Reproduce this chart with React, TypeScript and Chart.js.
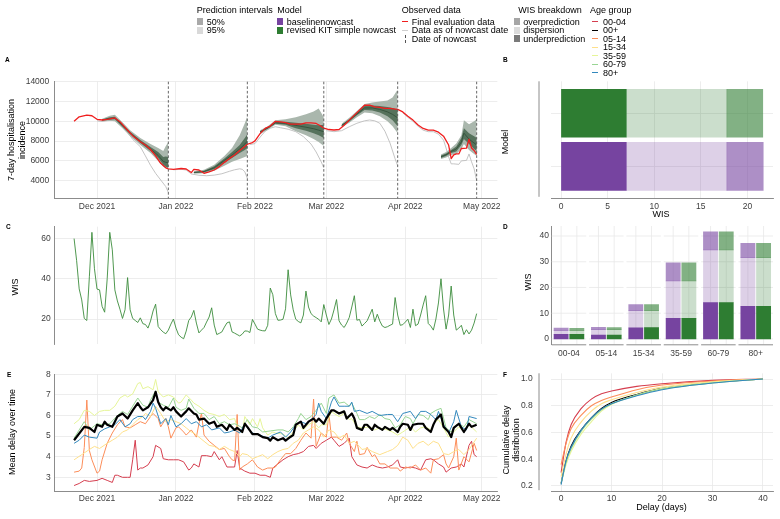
import React, { useEffect, useRef } from "react";
import { Chart, registerables } from "chart.js";

Chart.register(...registerables);

const PAGE_W = 780;
const PAGE_H = 519;
const FONT = '"Liberation Sans", Arial, Helvetica, sans-serif';
const TICK_COLOR = "#3d3d3d";
const GRID_COLOR = "#e8e8e8";
const AXIS_COLOR = "#8c8c8c";

const PURPLE = "#7644A0";
const GREEN = "#2E7D32";
const FINAL_RED = "#F01E1E";
const AS_OF_GREY = "#BDBDBD";
const PI95_FILL = "#AAB7AD";
const PI50_FILL = "#56725C";
const MEDIAN_LINE = "#2F4D36";
const NOWCAST_LINE = "#555555";

// ---------- shared time axis: days counted from 1 Dec 2021 ----------
const monthTickDays = [0, 31, 62, 90, 121, 151];
const monthTickLabels = ["Dec 2021", "Jan 2022", "Feb 2022", "Mar 2022", "Apr 2022", "May 2022"];
const nowcastDays = [28, 59, 89, 118, 149];
const TIME_MIN = -16.88;
const TIME_MAX = 157.1;

// ---------- A: hospitalisation incidence ----------
const finalDays = [
  -9, -7, -4, -2, 0, 2, 4, 6, 7, 9,
  12, 14, 17, 19, 21, 23, 25, 27, 28, 30,
  33, 35, 37, 38, 40, 42, 44, 46, 48, 50,
  52, 54, 56, 58, 59, 61, 62, 64, 66, 68,
  70, 72, 74, 76, 78, 80, 82, 84, 86, 88,
  89, 91, 93, 95, 97, 99, 101, 103, 105, 107,
  109, 111, 113, 115, 117, 118, 120, 122, 124, 126,
  128, 130, 132, 134, 136, 138, 139, 140, 141, 142,
  143, 145, 146, 147, 148, 149,
];
const finalIncidence = [
  10000, 10450, 10620, 10560, 10200, 10130, 10200, 10300, 10340, 9960,
  9100, 8550, 7940, 7600, 7150, 6500, 5750, 5300, 5200, 5150,
  5230, 5180, 4820, 5150, 5080, 4750, 4900, 5080, 5420, 5850,
  6250, 6600, 7050, 7450, 7680, 7850, 8020, 8750, 9280, 9520,
  10000, 9950, 9860, 9720, 9720, 9720, 9850, 9850, 9780, 9500,
  9300, 9170, 9120, 9170, 9600, 10120, 10620, 11130, 11620, 11640,
  11460, 11400, 11300, 11300, 11230, 11200, 10950, 10520, 10120, 9620,
  9280, 9100, 9100, 8900, 8500, 7600, 6220, 6600, 6700, 6700,
  7250, 7280, 8200, 7300, 7050, 6650,
];

// data as available on each nowcast date: [day, incidence]
const asOfWindow1 = [[0, 10050], [2, 9980], [4, 10060], [7, 10130], [9, 9700], [12, 8900], [14, 8170], [17, 7430], [19, 6500], [21, 5550], [23, 4740], [25, 4070], [27, 3400], [28, 2800]];
const asOfWindow2 = [[30, 5100], [33, 5150], [35, 5080], [37, 4680], [40, 4550], [43, 4500], [46, 4560], [49, 4700], [52, 4950], [54, 5100], [56, 5200], [57, 5150], [58, 4900], [59, 4250]];
const asOfWindow3 = [[60, 7650], [62, 7750], [64, 8400], [66, 9000], [68, 9300], [70, 9450], [72, 9350], [75, 9200], [78, 8950], [81, 8450], [84, 7700], [86, 6900], [88, 5900], [89, 5300]];
const asOfWindow4 = [[90, 9050], [93, 8950], [96, 9050], [99, 9450], [102, 9800], [105, 10050], [107, 10130], [109, 10050], [111, 9800], [113, 9000], [115, 7800], [117, 6200], [118, 5500]];
const asOfWindow5 = [[120, 10850], [122, 10400], [124, 10000], [126, 9500], [128, 9100], [130, 8950], [132, 8950], [134, 8700], [136, 8100], [137, 7300], [138, 6400], [139, 5700], [140, 5700], [142, 5650], [143, 6000], [145, 6050], [146, 6700], [147, 5900], [148, 5200], [149, 4000]];
const asOfWindows = [asOfWindow1, asOfWindow2, asOfWindow3, asOfWindow4, asOfWindow5];

// nowcast quantiles per nowcast window
const bandDays = [
  [2, 5, 7, 10, 13, 17, 21, 24, 26, 27, 28],
  [38, 42, 46, 50, 53, 56, 58, 59],
  [64, 67, 70, 74, 78, 82, 85, 87, 89],
  [96, 99, 102, 105, 108, 111, 114, 116, 118],
  [135, 137, 139, 141, 143, 144, 146, 148, 149],
];
const q025 = [
  [10000, 10050, 10000, 9300, 8500, 7600, 6800, 6000, 5400, 5250, 5200],
  [4700, 4750, 5000, 5500, 5900, 6200, 6400, 6500],
  [8700, 9150, 9650, 9500, 9000, 8600, 8200, 7900, 7500],
  [9400, 9850, 10400, 10900, 10800, 10500, 10000, 9500, 8800],
  [6200, 6350, 6600, 6700, 7200, 7700, 7100, 6700, 6500],
];
const q25 = [
  [10080, 10150, 10200, 9450, 8700, 7800, 7000, 6300, 5600, 5400, 5300],
  [4780, 4850, 5150, 5800, 6300, 6800, 7100, 7300],
  [8850, 9250, 9750, 9650, 9300, 9050, 8800, 8600, 8300],
  [9500, 9980, 10600, 11150, 11100, 10900, 10500, 10100, 9500],
  [6300, 6500, 6800, 6950, 7600, 8200, 7700, 7200, 7000],
];
const q50 = [
  [10130, 10280, 10330, 9580, 8820, 7950, 7200, 6550, 5950, 5850, 5800],
  [4830, 4920, 5300, 6050, 6600, 7200, 7700, 8000],
  [8920, 9330, 9850, 9800, 9580, 9400, 9250, 9100, 8950],
  [9580, 10100, 10750, 11350, 11350, 11200, 10950, 10700, 10350],
  [6420, 6620, 6950, 7200, 7900, 8800, 8200, 7800, 7600],
];
const q75 = [
  [10180, 10400, 10450, 9700, 8950, 8100, 7400, 6900, 6400, 6450, 6400],
  [4880, 5000, 5450, 6250, 6900, 7600, 8300, 8700],
  [9000, 9420, 9950, 9950, 9850, 9750, 9650, 9600, 9650],
  [9650, 10200, 10900, 11550, 11600, 11550, 11450, 11350, 11200],
  [6550, 6750, 7100, 7450, 8300, 9300, 8800, 8500, 8300],
];
const q975 = [
  [10250, 10550, 10650, 9900, 9100, 8300, 7700, 7300, 7000, 7500, 7900],
  [4950, 5100, 5600, 6500, 7300, 8600, 9800, 10500],
  [9100, 9500, 10100, 10200, 10400, 10700, 11000, 11300, 10400],
  [9750, 10350, 11050, 11750, 11900, 12000, 12100, 12400, 13200],
  [6650, 6900, 7300, 7750, 8600, 10100, 9700, 10000, 10200],
];
const incidenceTicks = [4000, 6000, 8000, 10000, 12000, 14000];

// ---------- B: overall WIS by model (top row first) ----------
const overallModels = ["revised KIT simple nowcast", "baselinenowcast"];
const overallUnder = [7.0, 7.0];
const overallDispersion = [10.8, 10.8];
const overallOver = [3.85, 3.9];
const wisTicks = [0, 5, 10, 15, 20];

// ---------- C: WIS over time (daily, from 22 Nov 2021) ----------
const wisStartDay = -9;
const wisDaily = [
  60, 49, 35, 29.5, 20.3, 19.3, 41, 63.1, 45, 34.9,
  34.5, 26.3, 23.4, 40, 63.1, 54.4, 34.5, 29, 24.9, 20.3,
  24.6, 40.6, 24.6, 20.3, 19.3, 18.3, 20.6, 17.7, 17.3, 15.5,
  19, 24, 27.4, 16.3, 14.7, 13.5, 12.7, 14.5, 17.5, 20,
  15.5, 12.2, 11, 10.2, 14, 19.3, 21, 24.3, 18, 13.1,
  14.5, 15.8, 18.5, 21, 25.6, 17, 12.3, 12.9, 13.6, 16,
  18.1, 18.6, 13.6, 13, 12.3, 11.6, 12.5, 14.1, 14.0, 13.3,
  19.8, 17.5, 15.0, 14.5, 14.2, 14.1, 16.9, 35.4, 32.1, 22.7,
  19.4, 19.5, 19.9, 25.1, 44.5, 32, 24.6, 19.9, 18.8, 18.1,
  22, 33.9, 26, 22.7, 21.5, 20.7, 19.9, 18.6, 27.2, 22,
  17.3, 20, 24.5, 29.7, 19.1, 17, 15.8, 18, 20.8, 26,
  31.6, 19.4, 19.8, 16.5, 17.8, 19.1, 22, 24.9, 18.6, 22.4,
  19, 16.5, 15.8, 16.2, 16.9, 17.5, 30.7, 22, 16.9, 17.2,
  18.5, 19.9, 15.8, 24.9, 16.7, 17.5, 22, 27, 31.6, 17.8,
  16.5, 14.5, 20, 28, 40, 25, 15.0, 22, 36.4, 22,
  14.5, 15.5, 16.9, 12.3, 14.7, 12.6, 14.5, 18, 22.7,
];
const wisTimeTicks = [20, 40, 60];

// ---------- D: WIS by age group ----------
const ageGroups = ["00-04", "05-14", "15-34", "35-59", "60-79", "80+"];
const baselineUnder = [1.8, 1.5, 4.3, 8.0, 14.1, 12.7];
const baselineDispersion = [1.4, 2.1, 6.7, 14.6, 20.5, 18.9];
const baselineOver = [1.0, 0.9, 2.35, 7.0, 7.0, 5.6];
const revisedUnder = [1.8, 1.5, 4.4, 8.0, 14.1, 12.7];
const revisedDispersion = [1.4, 2.1, 6.6, 14.6, 20.5, 18.9];
const revisedOver = [0.9, 0.8, 2.35, 7.0, 7.0, 5.6];
const ageWisTicks = [0, 10, 20, 30, 40];

// ---------- E: mean delay over time [day, mean delay] ----------
const delay0004 = [[-9, 2.6], [-7, 2.7], [-5, 2.85], [-3, 2.8], [0, 2.85], [2, 2.95], [4, 2.85], [6, 2.75], [7, 3.1], [8, 3.1], [10, 3.0], [12, 3.0], [13, 3.0], [14, 3.85], [15, 4.8], [16, 3.35], [17, 3.45], [18, 3.45], [20, 3.6], [22, 4.0], [23, 4.55], [25, 4.4], [26, 3.9], [28, 3.85], [30, 3.85], [32, 3.85], [34, 3.75], [36, 3.35], [37, 3.45], [38, 3.65], [40, 3.5], [41, 4.05], [43, 4.05], [45, 4.0], [46, 4.25], [48, 3.85], [49, 4.0], [51, 3.5], [53, 3.5], [54, 3.5], [55, 4.3], [56, 3.45], [58, 3.3], [60, 3.2], [62, 3.2], [64, 3.1], [66, 3.1], [68, 3.0], [69, 3.45], [71, 3.65], [73, 3.85], [75, 4.0], [77, 4.1], [79, 4.15], [81, 4.25], [83, 4.5], [85, 4.55], [86, 4.4], [88, 4.65], [90, 4.8], [92, 4.95], [93, 4.8], [95, 4.5], [97, 4.65], [99, 4.9], [100, 4.0], [102, 3.6], [104, 3.5], [106, 3.45], [108, 3.6], [110, 3.5], [112, 3.45], [114, 3.5], [116, 3.6], [118, 3.85], [119, 3.5], [121, 3.45], [123, 3.5], [125, 3.45], [127, 3.35], [129, 3.85], [131, 3.9], [132, 3.85], [134, 3.65], [136, 3.5], [137, 3.25], [139, 3.45], [141, 3.5], [143, 3.65], [144, 3.5], [146, 4.55], [147, 4.75], [148, 4.1], [149, 4.0]];
const delayAll = [[-9, 4.8], [-5, 5.45], [-3, 5.4], [-1, 5.2], [0, 5.55], [2, 5.45], [3, 5.7], [4, 5.55], [6, 5.45], [7, 5.7], [8, 5.95], [10, 6.1], [12, 5.85], [14, 6.25], [16, 6.6], [17, 6.4], [18, 6.25], [20, 6.4], [22, 6.75], [23, 7.15], [24, 6.65], [25, 6.4], [26, 6.25], [27, 6.4], [29, 6.25], [30, 6.4], [31, 6.2], [33, 5.95], [35, 6.2], [36, 6.35], [38, 6.1], [39, 6.05], [40, 5.8], [42, 5.85], [44, 5.6], [46, 5.7], [47, 5.45], [49, 5.55], [51, 5.3], [52, 5.55], [54, 5.3], [55, 5.4], [57, 5.2], [58, 5.6], [59, 5.45], [61, 5.1], [63, 5.1], [65, 4.95], [67, 4.9], [68, 4.78], [69, 4.95], [71, 4.8], [73, 4.9], [74, 4.78], [76, 4.97], [77, 5.05], [78, 5.55], [80, 5.7], [81, 5.4], [83, 5.7], [85, 5.85], [86, 5.7], [87, 5.85], [89, 5.6], [90, 5.85], [92, 6.25], [93, 6.25], [95, 6.1], [97, 6.2], [98, 5.85], [100, 6.1], [101, 5.85], [102, 5.4], [104, 5.3], [105, 5.55], [106, 5.55], [108, 5.3], [109, 5.55], [110, 5.45], [112, 5.3], [113, 5.45], [115, 5.3], [116, 5.4], [118, 5.2], [119, 5.45], [120, 5.6], [122, 5.55], [123, 5.3], [124, 5.55], [126, 5.6], [128, 5.6], [129, 5.4], [131, 5.2], [132, 5.55], [133, 5.8], [135, 6.05], [136, 5.45], [138, 5.2], [139, 4.95], [140, 5.4], [142, 5.6], [143, 5.4], [144, 5.2], [146, 5.6], [147, 5.45], [149, 5.55]];
const delay0514 = [[-9, 3.25], [-7, 3.3], [-6, 3.45], [-5, 4.45], [-4, 6.75], [-3, 4.3], [-2, 3.85], [0, 3.2], [1, 3.3], [2, 3.85], [4, 4.65], [6, 5.15], [8, 5.55], [10, 5.8], [11, 5.45], [13, 5.4], [15, 5.55], [17, 5.7], [19, 5.6], [21, 5.95], [22, 6.1], [24, 5.85], [25, 5.45], [27, 5.85], [28, 5.45], [29, 4.9], [31, 5.4], [32, 5.45], [34, 5.2], [35, 5.05], [37, 5.3], [39, 4.95], [40, 5.6], [41, 6.1], [42, 5.05], [44, 4.75], [46, 4.55], [48, 4.35], [50, 4.4], [52, 4.0], [53, 3.85], [54, 3.8], [55, 6.05], [56, 3.35], [57, 3.5], [59, 3.65], [61, 3.85], [63, 3.5], [65, 3.35], [67, 3.45], [69, 3.45], [70, 3.5], [72, 3.85], [74, 4.15], [76, 4.15], [78, 4.4], [80, 4.8], [82, 5.15], [84, 4.9], [85, 6.8], [86, 4.5], [88, 5.15], [90, 4.95], [91, 6.1], [92, 4.95], [94, 4.95], [96, 4.8], [98, 5.15], [99, 4.65], [101, 4.25], [102, 4.75], [103, 4.1], [105, 4.15], [106, 4.45], [108, 4.0], [109, 4.1], [111, 3.65], [113, 3.65], [115, 3.45], [118, 3.45], [119, 3.3], [121, 3.5], [123, 3.45], [125, 3.6], [127, 3.35], [129, 3.45], [131, 3.2], [132, 3.85], [134, 3.9], [136, 4.1], [137, 3.65], [138, 3.45], [140, 4.0], [141, 4.9], [142, 3.35], [144, 4.0], [146, 3.75], [148, 4.65], [149, 4.3]];
const delay1534 = [[-9, 3.85], [-6, 4.1], [-3, 4.35], [-1, 4.5], [1, 4.4], [4, 4.65], [6, 4.8], [8, 4.95], [10, 5.2], [12, 5.3], [14, 5.55], [16, 5.8], [18, 5.95], [19, 6.1], [21, 5.95], [23, 6.45], [25, 6.1], [27, 5.7], [29, 5.8], [31, 5.7], [33, 5.6], [35, 5.4], [37, 5.2], [38, 5.15], [40, 4.95], [42, 4.75], [44, 4.55], [46, 4.5], [48, 4.35], [50, 4.5], [52, 4.35], [54, 4.25], [56, 4.0], [57, 4.15], [59, 4.1], [61, 3.9], [63, 4.0], [65, 4.1], [67, 3.9], [69, 4.1], [71, 4.25], [73, 4.35], [75, 4.4], [77, 4.65], [79, 4.8], [81, 5.15], [83, 5.3], [85, 5.45], [87, 5.3], [89, 4.95], [91, 5.3], [93, 5.2], [95, 4.9], [97, 5.05], [99, 4.65], [101, 4.75], [103, 4.5], [104, 4.35], [106, 4.4], [108, 4.25], [111, 4.1], [114, 4.25], [116, 4.35], [118, 4.55], [120, 4.95], [122, 4.8], [124, 4.4], [126, 4.65], [128, 4.75], [130, 4.55], [132, 4.75], [134, 4.65], [136, 4.15], [138, 4.1], [140, 4.25], [142, 4.35], [144, 4.1], [146, 4.35], [149, 4.9]];
const delay3559 = [[-9, 5.6], [-7, 5.8], [-5, 6.25], [-3, 6.2], [-1, 6.0], [1, 6.2], [3, 6.25], [5, 6.25], [7, 6.45], [9, 6.85], [11, 7.0], [12, 6.9], [14, 7.05], [16, 7.55], [17, 7.6], [18, 7.3], [20, 7.4], [22, 7.25], [23, 7.75], [24, 7.15], [26, 6.9], [28, 7.0], [30, 6.9], [32, 6.6], [33, 6.65], [35, 7.0], [37, 6.75], [38, 6.6], [40, 6.45], [42, 6.25], [44, 6.1], [46, 6.05], [48, 5.95], [50, 6.05], [52, 5.8], [54, 5.85], [55, 5.45], [57, 5.15], [58, 5.95], [60, 5.55], [61, 5.85], [63, 5.45], [64, 5.85], [65, 5.4], [67, 5.05], [69, 5.2], [70, 5.15], [73, 5.1], [75, 4.9], [77, 5.2], [79, 5.55], [81, 5.3], [83, 5.55], [85, 5.7], [87, 5.4], [88, 5.55], [90, 5.55], [92, 6.2], [93, 6.1], [95, 5.95], [97, 6.1], [99, 5.8], [100, 5.85], [102, 5.45], [104, 5.4], [107, 5.45], [109, 5.3], [111, 5.4], [114, 5.3], [116, 5.2], [118, 5.05], [120, 5.2], [123, 5.45], [125, 5.2], [127, 5.4], [129, 5.45], [131, 5.3], [132, 5.6], [134, 5.8], [136, 5.4], [138, 4.95], [140, 5.2], [142, 5.45], [144, 5.2], [146, 5.55], [149, 5.2]];
const delay6079 = [[-9, 4.9], [-5, 5.7], [-3, 5.3], [0, 5.6], [2, 5.55], [5, 5.6], [8, 6.0], [10, 6.2], [12, 6.05], [14, 6.45], [16, 6.85], [18, 6.5], [20, 6.4], [21, 6.75], [23, 7.2], [24, 6.65], [26, 6.5], [28, 6.4], [30, 6.85], [31, 6.4], [33, 6.25], [35, 6.35], [36, 6.8], [38, 6.35], [40, 6.1], [42, 6.1], [44, 5.8], [46, 5.95], [48, 5.6], [50, 5.7], [52, 5.55], [54, 5.6], [55, 5.55], [57, 5.4], [59, 5.8], [61, 5.45], [63, 5.4], [65, 5.2], [68, 5.25], [71, 5.3], [73, 5.3], [75, 5.2], [77, 5.45], [79, 5.85], [80, 6.1], [82, 5.8], [84, 5.95], [86, 6.25], [88, 6.6], [90, 6.1], [91, 6.85], [93, 7.0], [95, 6.6], [97, 6.65], [99, 6.45], [100, 6.6], [102, 6.1], [103, 5.8], [105, 5.8], [107, 5.95], [109, 5.85], [111, 6.05], [113, 5.85], [115, 5.8], [117, 5.4], [119, 5.55], [121, 5.95], [123, 5.85], [124, 5.6], [126, 6.05], [128, 6.0], [130, 5.8], [131, 6.1], [133, 6.25], [135, 6.35], [137, 5.4], [139, 5.2], [141, 5.55], [142, 5.6], [144, 5.45], [146, 5.8], [149, 5.6]];
const delay80plus = [[-9, 4.65], [-7, 4.8], [-5, 5.05], [-3, 4.95], [0, 4.9], [1, 5.2], [3, 5.35], [5, 5.45], [7, 5.55], [9, 5.8], [11, 5.45], [13, 5.6], [14, 5.8], [16, 5.95], [18, 5.95], [19, 5.8], [21, 6.2], [22, 6.6], [23, 6.35], [25, 5.6], [27, 5.85], [28, 5.55], [29, 6.0], [31, 5.45], [33, 5.6], [35, 5.85], [37, 5.6], [39, 5.7], [41, 5.45], [43, 5.55], [45, 5.3], [48, 5.4], [50, 5.15], [52, 5.2], [54, 5.3], [56, 5.15], [58, 5.6], [59, 5.4], [61, 5.15], [64, 5.05], [67, 4.9], [69, 5.05], [72, 5.2], [74, 4.95], [76, 5.2], [78, 5.55], [80, 5.7], [82, 5.6], [84, 5.8], [86, 6.05], [87, 6.6], [88, 6.2], [90, 5.85], [92, 6.65], [93, 6.9], [95, 6.45], [97, 6.45], [99, 6.45], [100, 6.65], [101, 6.2], [103, 6.25], [106, 6.1], [108, 6.2], [111, 6.0], [114, 6.05], [116, 6.05], [118, 5.7], [120, 6.1], [123, 6.2], [125, 5.85], [127, 6.2], [129, 6.2], [131, 6.05], [133, 5.8], [134, 6.2], [136, 5.55], [138, 5.15], [140, 5.7], [141, 6.25], [143, 5.45], [145, 5.3], [146, 5.95], [149, 5.85]];
const delayTicks = [3, 4, 5, 6, 7, 8];

// ---------- F: cumulative delay distribution ----------
const cdfDelays = [0, 1, 2, 4, 6, 8, 10, 15, 20, 30, 40];
const cdf0004 = [0.30, 0.53, 0.66, 0.78, 0.85, 0.89, 0.91, 0.945, 0.965, 0.99, 1.0];
const cdfAll = [0.22, 0.39, 0.50, 0.62, 0.71, 0.78, 0.825, 0.885, 0.93, 0.975, 1.0];
const cdf0514 = [0.36, 0.52, 0.63, 0.73, 0.80, 0.84, 0.865, 0.92, 0.955, 0.985, 1.0];
const cdf1534 = [0.27, 0.44, 0.56, 0.68, 0.76, 0.815, 0.845, 0.90, 0.94, 0.98, 1.0];
const cdf3559 = [0.22, 0.36, 0.46, 0.59, 0.68, 0.76, 0.81, 0.88, 0.93, 0.975, 1.0];
const cdf6079 = [0.22, 0.38, 0.48, 0.61, 0.70, 0.77, 0.815, 0.88, 0.925, 0.97, 1.0];
const cdf80plus = [0.21, 0.39, 0.49, 0.62, 0.71, 0.775, 0.815, 0.875, 0.92, 0.97, 1.0];
const cdfTicks = [0.2, 0.4, 0.6, 0.8, 1.0];
const delayDayTicks = [0, 10, 20, 30, 40];

// ---------- legend content ----------
const legendAgeGroups = ["00-04", "00+", "05-14", "15-34", "35-59", "60-79", "80+"];
const ageColors = ["#D53E4F", "#000000", "#FC8D59", "#FEE08B", "#E6F598", "#99D594", "#3288BD"];

// ---------- helpers ----------
type Box = { l: number; t: number; r: number; b: number };
const boxA: Box = { l: 54, t: 81.7, r: 497.3, b: 198.3 };
const boxB: Box = { l: 551, t: 81.3, r: 773, b: 198.3 };
const boxC: Box = { l: 54, t: 226.7, r: 497.3, b: 344 };
const boxD: Box = { l: 551.7, t: 226, r: 773, b: 344.3 };
const boxE: Box = { l: 54, t: 374.3, r: 497.3, b: 491 };
const boxF: Box = { l: 551, t: 373.3, r: 773, b: 491.7 };

const FACET_STEP = 2.38;
const FACET_WIDTH = 2.2;

function rgba(hex: string, a: number) {
  const n = parseInt(hex.slice(1), 16);
  return `rgba(${(n >> 16) & 255},${(n >> 8) & 255},${n & 255},${a})`;
}

function layoutFor(box: Box, yW: number, xH: number) {
  return {
    padding: { left: box.l - yW, top: box.t, right: PAGE_W - box.r, bottom: PAGE_H - box.b - xH },
  };
}

const tickFont = { family: FONT, size: 8.5 };

function fixedTicks(values: number[]) {
  return (scale: any) => {
    scale.ticks = values.map((v) => ({ value: v }));
  };
}

function timeAxis(showLabels: boolean, xH: number, showBorder: boolean) {
  return {
    type: "linear",
    min: TIME_MIN,
    max: TIME_MAX,
    afterBuildTicks: fixedTicks(monthTickDays),
    afterFit: (s: any) => { s.height = xH; },
    grid: { color: GRID_COLOR, lineWidth: 0.8, drawTicks: false },
    border: { display: showBorder, color: AXIS_COLOR, width: 1 },
    ticks: {
      display: showLabels,
      padding: 3,
      color: TICK_COLOR,
      font: tickFont,
      maxRotation: 0,
      autoSkip: false,
      callback: (v: number) => monthTickLabels[monthTickDays.indexOf(v)] ?? "",
    },
  };
}

function valueAxis(min: number, max: number, ticks: number[], yW: number, pad: number, fmt?: (v: number) => string, showBorder = true) {
  return {
    type: "linear",
    min,
    max,
    afterBuildTicks: fixedTicks(ticks),
    afterFit: (s: any) => { s.width = yW; },
    grid: { color: GRID_COLOR, lineWidth: 0.8, drawTicks: false },
    border: { display: showBorder, color: AXIS_COLOR, width: 1 },
    ticks: {
      padding: pad,
      color: TICK_COLOR,
      font: tickFont,
      callback: (v: number) => (fmt ? fmt(v) : String(v)),
    },
  };
}

const baseOptions = {
  responsive: false,
  animation: false,
  devicePixelRatio: 1,
  events: [],
  plugins: { legend: { display: false }, tooltip: { enabled: false }, title: { display: false } },
  elements: { point: { radius: 0 }, line: { borderJoinStyle: "round", tension: 0 } },
};

const toXY = (pairs: number[][]) => pairs.map(([x, y]) => ({ x, y }));
const zipXY = (xs: number[], ys: number[]) => xs.map((x, i) => ({ x, y: ys[i] }));

// vertical line standing in for an axis that sits left of the panel
function offsetAxisLine(x: number) {
  return {
    id: "offsetAxisLine",
    afterDraw(chart: any) {
      const { ctx, chartArea } = chart;
      ctx.save();
      ctx.strokeStyle = AXIS_COLOR;
      ctx.lineWidth = 1;
      ctx.beginPath();
      ctx.moveTo(x, chartArea.top);
      ctx.lineTo(x, chartArea.bottom - 1.5);
      ctx.stroke();
      ctx.restore();
    },
  };
}

// ---------- chart builders ----------
function buildIncidence(canvas: HTMLCanvasElement) {
  const datasets: any[] = [];
  datasets.push({
    data: zipXY(finalDays, finalIncidence),
    borderColor: FINAL_RED,
    borderWidth: 1.3,
    order: 0,
  });
  asOfWindows.forEach((w) => {
    datasets.push({ data: toXY(w), borderColor: AS_OF_GREY, borderWidth: 0.9, order: 6 });
  });
  bandDays.forEach((days, w) => {
    datasets.push({ data: zipXY(days, q025[w]), borderWidth: 0, borderColor: "transparent", order: 5 });
    datasets.push({ data: zipXY(days, q975[w]), borderWidth: 0, borderColor: "transparent", backgroundColor: PI95_FILL, fill: "-1", order: 5 });
    datasets.push({ data: zipXY(days, q25[w]), borderWidth: 0, borderColor: "transparent", order: 4 });
    datasets.push({ data: zipXY(days, q75[w]), borderWidth: 0, borderColor: "transparent", backgroundColor: PI50_FILL, fill: "-1", order: 4 });
    datasets.push({ data: zipXY(days, q50[w]), borderColor: MEDIAN_LINE, borderWidth: 0.8, order: 3 });
  });
  const nowcastLines = {
    id: "nowcastLines",
    afterDatasetsDraw(chart: any) {
      const { ctx, chartArea, scales } = chart;
      ctx.save();
      ctx.strokeStyle = NOWCAST_LINE;
      ctx.lineWidth = 0.9;
      ctx.setLineDash([2.6, 2]);
      nowcastDays.forEach((d) => {
        const x = scales.x.getPixelForValue(d);
        ctx.beginPath();
        ctx.moveTo(x, chartArea.top);
        ctx.lineTo(x, chartArea.bottom);
        ctx.stroke();
      });
      ctx.restore();
    },
  };
  return new Chart(canvas, {
    type: "line",
    data: { datasets },
    options: {
      ...baseOptions,
      layout: layoutFor(boxA, 40, 20),
      scales: {
        x: timeAxis(true, 20, true),
        y: valueAxis(2220, 14000, incidenceTicks, 40, 4.7),
      },
    } as any,
    plugins: [nowcastLines],
  });
}

function buildOverallWis(canvas: HTMLCanvasElement) {
  const starts = overallModels.map(() => 0);
  const segs = [overallUnder, overallDispersion, overallOver];
  const alphas = [1, 0.25, 0.6];
  const rowColors = [GREEN, PURPLE];
  const datasets: any[] = [];
  segs.forEach((seg, k) => {
    const data = overallModels.map((_, r) => {
      const lo = starts[r];
      const hi = lo + seg[r];
      starts[r] = hi;
      return { x: [lo, hi], y: r + 1 };
    });
    datasets.push({
      data,
      backgroundColor: rowColors.map((c) => rgba(c, alphas[k])),
      borderWidth: 0,
      barThickness: 48,
      grouped: false,
    });
  });
  return new Chart(canvas, {
    type: "bar",
    data: { datasets },
    options: {
      ...baseOptions,
      indexAxis: "y",
      layout: layoutFor(boxB, 0, 22),
      scales: {
        x: {
          type: "linear",
          min: -1.08,
          max: 22.75,
          afterBuildTicks: fixedTicks(wisTicks),
          afterFit: (s: any) => { s.height = 22; },
          grid: { color: GRID_COLOR, lineWidth: 0.8, drawTicks: false },
          border: { display: true, color: AXIS_COLOR, width: 1 },
          ticks: { padding: 3, color: TICK_COLOR, font: tickFont, callback: (v: number) => String(v) },
        },
        y: {
          type: "linear",
          min: 0.4,
          max: 2.6,
          reverse: true,
          offset: false,
          afterBuildTicks: fixedTicks([1, 2]),
          afterFit: (s: any) => { s.width = 0; },
          grid: { color: GRID_COLOR, lineWidth: 0.8, drawTicks: false, offset: false },
          border: { display: false },
          ticks: { display: false },
        },
      },
    } as any,
    plugins: [offsetAxisLine(539)],
  });
}

function buildWisOverTime(canvas: HTMLCanvasElement) {
  const data = wisDaily.map((v, i) => ({ x: wisStartDay + i, y: v }));
  return new Chart(canvas, {
    type: "line",
    data: {
      datasets: [{ data, borderColor: "#3C8C3C", borderWidth: 0.9 }],
    },
    options: {
      ...baseOptions,
      layout: layoutFor(boxC, 40, 0),
      scales: {
        x: timeAxis(false, 0, false),
        y: valueAxis(7.6, 65.9, wisTimeTicks, 40, 3.3),
      },
    } as any,
  });
}

function buildAgeWis(canvas: HTMLCanvasElement) {
  const models = [
    { color: PURPLE, segs: [baselineUnder, baselineDispersion, baselineOver], offset: 0.6 },
    { color: GREEN, segs: [revisedUnder, revisedDispersion, revisedOver], offset: 1.6 },
  ];
  const alphas = [1, 0.25, 0.6];
  const datasets: any[] = [];
  models.forEach((m) => {
    const starts = ageGroups.map(() => 0);
    m.segs.forEach((seg, k) => {
      const data = ageGroups.map((_, i) => {
        const lo = starts[i];
        const hi = lo + seg[i];
        starts[i] = hi;
        return { x: i * FACET_STEP + m.offset, y: [lo, hi] };
      });
      datasets.push({
        data,
        backgroundColor: rgba(m.color, alphas[k]),
        borderWidth: 0,
        barThickness: 14.2,
        grouped: false,
      });
    });
  });
  const facetFrames = {
    id: "facetFrames",
    beforeDatasetsDraw(chart: any) {
      const { ctx, chartArea, scales } = chart;
      const xs = scales.x;
      const ys = scales.y;
      ctx.save();
      ctx.strokeStyle = GRID_COLOR;
      ctx.lineWidth = 0.8;
      ageGroups.forEach((_, i) => {
        const x0 = xs.getPixelForValue(i * FACET_STEP);
        const x1 = xs.getPixelForValue(i * FACET_STEP + FACET_WIDTH);
        ageWisTicks.forEach((t) => {
          const y = ys.getPixelForValue(t);
          ctx.beginPath();
          ctx.moveTo(x0, y);
          ctx.lineTo(x1, y);
          ctx.stroke();
        });
        [0.6, 1.6].forEach((o) => {
          const x = xs.getPixelForValue(i * FACET_STEP + o);
          ctx.beginPath();
          ctx.moveTo(x, chartArea.top);
          ctx.lineTo(x, chartArea.bottom);
          ctx.stroke();
        });
      });
      ctx.restore();
    },
    afterDraw(chart: any) {
      const { ctx, chartArea, scales } = chart;
      ctx.save();
      ctx.strokeStyle = AXIS_COLOR;
      ctx.lineWidth = 1;
      ageGroups.forEach((_, i) => {
        const x0 = scales.x.getPixelForValue(i * FACET_STEP);
        const x1 = scales.x.getPixelForValue(i * FACET_STEP + FACET_WIDTH);
        ctx.beginPath();
        ctx.moveTo(x0, chartArea.bottom + 0.5);
        ctx.lineTo(x1, chartArea.bottom + 0.5);
        ctx.stroke();
      });
      ctx.restore();
    },
  };
  const facetCenters = ageGroups.map((_, i) => i * FACET_STEP + FACET_WIDTH / 2);
  return new Chart(canvas, {
    type: "bar",
    data: { datasets },
    options: {
      ...baseOptions,
      layout: layoutFor(boxD, 30, 18),
      scales: {
        x: {
          type: "linear",
          min: 0,
          max: 5 * FACET_STEP + FACET_WIDTH,
          offset: false,
          afterBuildTicks: fixedTicks(facetCenters),
          afterFit: (s: any) => { s.height = 18; },
          grid: { display: false, drawTicks: false, offset: false },
          border: { display: false },
          ticks: {
            padding: 4,
            color: TICK_COLOR,
            font: tickFont,
            autoSkip: false,
            maxRotation: 0,
            callback: (v: number) => ageGroups[facetCenters.findIndex((c) => Math.abs(c - v) < 1e-6)] ?? "",
          },
        },
        y: {
          ...valueAxis(-2.08, 43.9, ageWisTicks, 30, 2.7),
          grid: { display: false, drawTicks: false },
        },
      },
    } as any,
    plugins: [facetFrames],
  });
}

function buildMeanDelay(canvas: HTMLCanvasElement) {
  const series = [delay0004, delayAll, delay0514, delay1534, delay3559, delay6079, delay80plus];
  const orders = [6, 0, 5, 4, 3, 2, 1];
  const datasets = series.map((s, i) => ({
    data: toXY(s),
    borderColor: ageColors[i],
    borderWidth: i === 1 ? 2.2 : 1.0,
    order: orders[i],
  }));
  return new Chart(canvas, {
    type: "line",
    data: { datasets },
    options: {
      ...baseOptions,
      layout: layoutFor(boxE, 40, 20),
      scales: {
        x: { ...timeAxis(true, 20, true) },
        y: valueAxis(2.335, 8.0, delayTicks, 40, 3.3),
      },
    } as any,
  });
}

function buildCdf(canvas: HTMLCanvasElement) {
  const series = [cdf0004, cdfAll, cdf0514, cdf1534, cdf3559, cdf6079, cdf80plus];
  const datasets = series.map((s, i) => ({
    data: zipXY(cdfDelays, s),
    borderColor: ageColors[i],
    borderWidth: 1.1,
    cubicInterpolationMode: "monotone",
    order: 7 - i,
  }));
  return new Chart(canvas, {
    type: "line",
    data: { datasets },
    options: {
      ...baseOptions,
      layout: layoutFor(boxF, 40, 20),
      scales: {
        x: {
          type: "linear",
          min: -2,
          max: 42,
          afterBuildTicks: fixedTicks(delayDayTicks),
          afterFit: (s: any) => { s.height = 20; },
          grid: { color: GRID_COLOR, lineWidth: 0.8, drawTicks: false },
          border: { display: true, color: AXIS_COLOR, width: 1 },
          ticks: { padding: 1.5, color: TICK_COLOR, font: tickFont, callback: (v: number) => String(v) },
        },
        y: valueAxis(0.157, 1.043, cdfTicks, 40, 18.3, (v) => v.toFixed(1), false),
      },
    } as any,
    plugins: [offsetAxisLine(539)],
  });
}

// ---------- text helpers ----------
type TextSpec = {
  text: string;
  x: number;
  y: number;
  size?: number;
  bold?: boolean;
  align?: "left" | "center";
  rotate?: boolean;
};

function Txt({ s }: { s: TextSpec }) {
  const tx = s.align === "center" || s.rotate ? "-50%" : "0";
  const style: React.CSSProperties = {
    position: "absolute",
    left: s.x,
    top: s.y,
    whiteSpace: "nowrap",
    fontFamily: FONT,
    fontSize: s.size ?? 9,
    fontWeight: s.bold ? "bold" : "normal",
    lineHeight: 1,
    color: "#000",
    transform: `translate(${tx}, -50%)${s.rotate ? " rotate(-90deg)" : ""}`,
  };
  return <div style={style}>{s.text}</div>;
}

function Swatch({ x, y, w, h, color }: { x: number; y: number; w: number; h: number; color: string }) {
  return <div style={{ position: "absolute", left: x, top: y - h / 2, width: w, height: h, background: color }} />;
}

function Dash({ x, y, w, color, thick }: { x: number; y: number; w: number; color: string; thick: number }) {
  return <div style={{ position: "absolute", left: x, top: y - thick / 2, width: w, height: thick, background: color }} />;
}

const ITEM_Y0 = 21.7;
const ITEM_DY = 8.5;
const itemY = (k: number) => ITEM_Y0 + k * ITEM_DY;

const panelTexts: TextSpec[] = [
  { text: "A", x: 5, y: 60, size: 6.5, bold: true },
  { text: "B", x: 503, y: 60, size: 6.5, bold: true },
  { text: "C", x: 6, y: 227, size: 6.5, bold: true },
  { text: "D", x: 503, y: 227, size: 6.5, bold: true },
  { text: "E", x: 7, y: 375, size: 6.5, bold: true },
  { text: "F", x: 503, y: 375, size: 6.5, bold: true },
  { text: "7-day hospitalisation", x: 11, y: 140, rotate: true },
  { text: "incidence", x: 22.3, y: 140, rotate: true },
  { text: "Model", x: 505, y: 142, rotate: true },
  { text: "WIS", x: 661, y: 214, align: "center" },
  { text: "WIS", x: 15, y: 287, rotate: true },
  { text: "WIS", x: 528, y: 282, rotate: true },
  { text: "Mean delay over time", x: 11.5, y: 432, rotate: true },
  { text: "Cumulative delay", x: 505.5, y: 440, rotate: true },
  { text: "distribution", x: 516, y: 440, rotate: true },
  { text: "Delay (days)", x: 661.5, y: 507, align: "center" },
  { text: "Prediction intervals", x: 196.7, y: 10 },
  { text: "Model", x: 277.3, y: 10 },
  { text: "Observed data", x: 401.7, y: 10 },
  { text: "WIS breakdown", x: 518.3, y: 10 },
  { text: "Age group", x: 590, y: 10 },
];

const intervalLegend = [
  { label: "50%", color: "#A9A9A9" },
  { label: "95%", color: "#D9D9D9" },
];
const modelLegend = [
  { label: "baselinenowcast", color: PURPLE },
  { label: "revised KIT simple nowcast", color: GREEN },
];
const observedLegend = ["Final evaluation data", "Data as of nowcast date", "Date of nowcast"];
const wisLegend = [
  { label: "overprediction", color: "#A6A6A6" },
  { label: "dispersion", color: "#DCDCDC" },
  { label: "underprediction", color: "#7A7A7A" },
];

function Legend() {
  return (
    <>
      {intervalLegend.map((it, k) => (
        <React.Fragment key={"pi" + k}>
          <Swatch x={197} y={itemY(k)} w={6} h={7} color={it.color} />
          <Txt s={{ text: it.label, x: 206.7, y: itemY(k) }} />
        </React.Fragment>
      ))}
      {modelLegend.map((it, k) => (
        <React.Fragment key={"m" + k}>
          <Swatch x={277.3} y={itemY(k)} w={6} h={7} color={it.color} />
          <Txt s={{ text: it.label, x: 286.7, y: itemY(k) }} />
        </React.Fragment>
      ))}
      <Dash x={402.3} y={itemY(0)} w={5.5} color={FINAL_RED} thick={1.3} />
      <Dash x={402.3} y={itemY(1)} w={5.5} color="#CFCFCF" thick={1} />
      <div
        style={{
          position: "absolute",
          left: 404.8,
          top: itemY(2) - 4,
          width: 0,
          height: 8,
          borderLeft: `1px dashed ${NOWCAST_LINE}`,
        }}
      />
      {observedLegend.map((label, k) => (
        <Txt key={"o" + k} s={{ text: label, x: 411.7, y: itemY(k) }} />
      ))}
      {wisLegend.map((it, k) => (
        <React.Fragment key={"w" + k}>
          <Swatch x={514} y={itemY(k)} w={6} h={7} color={it.color} />
          <Txt s={{ text: it.label, x: 523.3, y: itemY(k) }} />
        </React.Fragment>
      ))}
      {legendAgeGroups.map((label, k) => (
        <React.Fragment key={"a" + k}>
          <Dash x={592} y={itemY(k)} w={5.5} color={ageColors[k]} thick={1.4} />
          <Txt s={{ text: label, x: 603, y: itemY(k) }} />
        </React.Fragment>
      ))}
    </>
  );
}

export default function App() {
  const refs = [
    useRef<HTMLCanvasElement>(null),
    useRef<HTMLCanvasElement>(null),
    useRef<HTMLCanvasElement>(null),
    useRef<HTMLCanvasElement>(null),
    useRef<HTMLCanvasElement>(null),
    useRef<HTMLCanvasElement>(null),
  ];

  useEffect(() => {
    const builders = [buildIncidence, buildOverallWis, buildWisOverTime, buildAgeWis, buildMeanDelay, buildCdf];
    const charts = builders.map((build, i) => build(refs[i].current as HTMLCanvasElement));
    return () => charts.forEach((c) => c.destroy());
  }, []);

  return (
    <div
      style={{
        position: "fixed",
        left: 0,
        top: 0,
        width: PAGE_W,
        height: PAGE_H,
        background: "#fff",
        overflow: "hidden",
      }}
    >
      {refs.map((r, i) => (
        <canvas
          key={i}
          ref={r}
          width={PAGE_W}
          height={PAGE_H}
          style={{ position: "absolute", left: 0, top: 0, width: PAGE_W, height: PAGE_H }}
        />
      ))}
      {panelTexts.map((s, i) => (
        <Txt key={i} s={s} />
      ))}
      <Legend />
    </div>
  );
}
